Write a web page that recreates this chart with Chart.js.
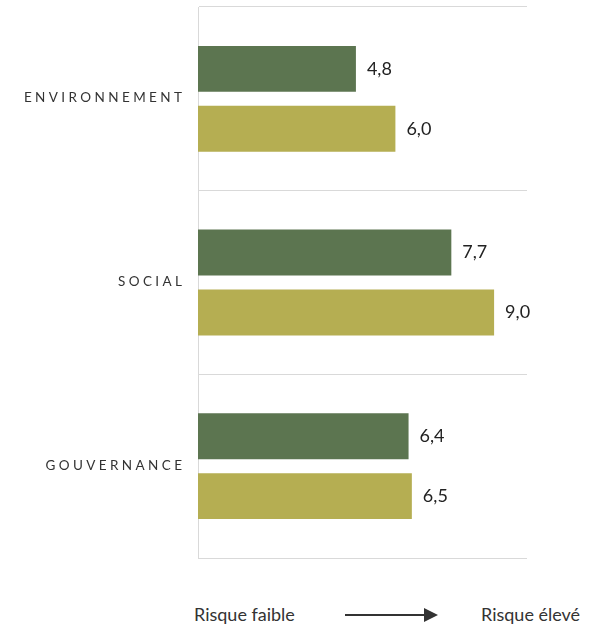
<!DOCTYPE html>
<html><head><meta charset="utf-8">
<script src="https://cdn.jsdelivr.net/npm/chart.js@4"></script>
<style>
html,body{margin:0;padding:0;background:#fff;}
#wrap{position:relative;width:591px;height:627px;font-family:Lato,"Open Sans",sans-serif;color:#333;}
#c{position:absolute;left:0;top:0;}
.lab{position:absolute;top:602px;font-size:18px;line-height:24px;color:#333;white-space:nowrap;}
</style></head>
<body>
<div id="wrap">
<canvas id="c" width="591" height="570"></canvas>
<div class="lab" id="lo" style="left:194px">Risque faible</div>
<svg style="position:absolute;left:344px;top:606px" width="96" height="18">
<line x1="1" y1="9" x2="82" y2="9" stroke="#333" stroke-width="2"/>
<polygon points="80,2 94,9 80,16" fill="#333"/>
</svg>
<div class="lab" id="hi" style="left:481px">Risque élevé</div>
</div>
<script>
const categories = ["ENVIRONNEMENT", "SOCIAL", "GOUVERNANCE"];
const seriesA = [4.8, 7.7, 6.4];
const seriesB = [6.0, 9.0, 6.5];
const xMin = 0, xMax = 10;

const valueLabels = {
  id: 'valueLabels',
  afterDatasetsDraw(chart) {
    const ctx = chart.ctx;
    ctx.save();
    ctx.font = '18px Lato, "Open Sans", sans-serif';
    ctx.fillStyle = '#222';
    ctx.textAlign = 'left';
    ctx.textBaseline = 'middle';
    chart.data.datasets.forEach((ds, i) => {
      chart.getDatasetMeta(i).data.forEach((bar, j) => {
        ctx.fillText(ds.data[j].toFixed(1).replace('.', ','), bar.x + 11, bar.y);
      });
    });
    ctx.restore();
  }
};
const catLabels = {
  id: 'catLabels',
  afterDraw(chart) {
    const ctx = chart.ctx;
    const y = chart.scales.y;
    ctx.save();
    ctx.font = '13.5px Lato, "Open Sans", sans-serif';
    ctx.fillStyle = '#333';
    ctx.textBaseline = 'middle';
    ctx.textAlign = 'left';
    const sp = 3.4;
    chart.data.labels.forEach((l, i) => {
      let w = 0;
      for (const ch of l) w += ctx.measureText(ch).width + sp;
      w -= sp;
      let x = 182 - w;
      const py = y.getPixelForValue(i) - 1;
      for (const ch of l) { ctx.fillText(ch, x, py); x += ctx.measureText(ch).width + sp; }
    });
    ctx.restore();
  }
};

new Chart(document.getElementById('c'), {
  type: 'bar',
  data: {
    labels: categories,
    datasets: [
      { data: seriesA, backgroundColor: '#5c7550', categoryPercentage: 0.652, barPercentage: 0.767 },
      { data: seriesB, backgroundColor: '#b5ae52', categoryPercentage: 0.652, barPercentage: 0.767 }
    ]
  },
  options: {
    indexAxis: 'y',
    responsive: false,
    animation: false,
    layout: { padding: { left: 198, right: 64, top: 7, bottom: 12 } },
    plugins: { legend: { display: false }, tooltip: { enabled: false } },
    scales: {
      x: { min: xMin, max: xMax, display: false },
      y: {
        grid: { offset: true, color: '#d9d9d9', lineWidth: 1, drawTicks: false },
        border: { display: true, color: '#d9d9d9', width: 1 },
        ticks: { display: false }
      }
    }
  },
  plugins: [valueLabels, catLabels]
});
</script>
</body></html>
